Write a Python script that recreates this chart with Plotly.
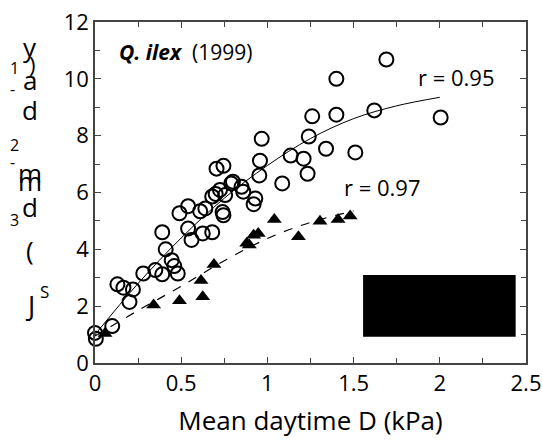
import plotly.graph_objects as go

# Open circles (Q. ilex, upper series)
circ_x = [0.0, 0.005, 0.10, 0.13, 0.165, 0.22, 0.20, 0.28, 0.35, 0.39, 0.48, 0.445, 0.46, 0.41,
          0.39, 0.54, 0.56, 0.625, 0.68, 0.49, 0.54, 0.61, 0.64, 0.68, 0.70, 0.725, 0.755, 0.74,
          0.745, 0.79, 0.80, 0.85, 0.86, 0.93, 0.92, 1.086, 1.40, 1.40, 1.26, 1.24, 0.967, 1.34,
          0.957, 1.135, 1.21, 1.233, 0.953, 0.705, 0.745, 1.69, 1.62, 2.005, 1.51]
circ_y = [1.06, 0.85, 1.30, 2.77, 2.65, 2.59, 2.15, 3.15, 3.27, 3.12, 3.15, 3.62, 3.41, 4.0,
          4.6, 4.73, 4.33, 4.56, 4.6, 5.27, 5.52, 5.34, 5.44, 5.86, 5.95, 6.09, 5.91, 5.31,
          5.2, 6.32, 6.38, 6.2, 6.03, 5.79, 5.59, 6.32, 10.0, 8.74, 8.68, 7.97, 7.89, 7.54,
          7.12, 7.3, 7.19, 6.66, 6.6, 6.84, 6.94, 10.68, 8.89, 8.64, 7.41]

# Filled triangles (lower series)
tri_x = [0.058, 0.34, 0.49, 0.625, 0.615, 0.69, 0.88, 0.895, 0.92, 0.947, 1.04, 1.18, 1.305, 1.41, 1.48]
tri_y = [1.04, 2.04, 2.19, 2.33, 2.90, 3.47, 4.21, 4.15, 4.50, 4.56, 5.05, 4.44, 4.99, 5.05, 5.17]

# Fitted curves
fit1_x = [0, 0.25, 0.5, 0.75, 1.0, 1.25, 1.5, 1.75, 2.0]
fit1_y = [1.0, 2.8, 4.4, 5.8, 6.95, 7.9, 8.6, 9.05, 9.35]
fit2_x = [0, 0.25, 0.5, 0.75, 1.0, 1.25, 1.5]
fit2_y = [0.95, 1.85, 2.7, 3.6, 4.38, 4.95, 5.35]

x_ticks = [0, 0.5, 1, 1.5, 2, 2.5]
x_ticktext = ["0", "0.5", "1", "1.5", "2", "2.5"]
y_ticks = [0, 2, 4, 6, 8, 10, 12]

W, H = 542, 443
L, R, T, B = 95, 16, 22, 80
PW, PH = W - L - R, H - T - B

fig = go.Figure()
fig.add_trace(go.Scatter(x=fit1_x, y=fit1_y, mode="lines", line=dict(color="black", width=1, shape="spline"),
                         hoverinfo="skip", showlegend=False))
fig.add_trace(go.Scatter(x=fit2_x, y=fit2_y, mode="lines", line=dict(color="black", width=1.2, dash="dash", shape="spline"),
                         hoverinfo="skip", showlegend=False))
fig.add_trace(go.Scatter(x=circ_x, y=circ_y, mode="markers", cliponaxis=False,
                         marker=dict(symbol="circle-open", size=14, color="black", line=dict(width=2, color="black")),
                         showlegend=False))
fig.add_trace(go.Scatter(x=tri_x, y=tri_y, mode="markers", cliponaxis=False,
                         marker=dict(symbol="triangle-up", size=13, color="black"),
                         showlegend=False))

fig.add_shape(type="rect", x0=1.555, x1=2.44, y0=0.92, y1=3.1, fillcolor="black", line=dict(width=0))

font = "Open Sans, Noto Sans, sans-serif"
fig.add_annotation(x=0.128, y=10.94, xref="x", yref="y", xanchor="left", yanchor="middle", showarrow=False,
                   text="<b><i>Q. ilex</i></b>  (1999)", font=dict(family=font, size=21, color="black"))
fig.add_annotation(x=1.862, y=10.06, xref="x", yref="y", xanchor="left", yanchor="middle", showarrow=False,
                   text="r = 0.95", font=dict(family=font, size=22, color="black"))
fig.add_annotation(x=1.433, y=6.19, xref="x", yref="y", xanchor="left", yanchor="middle", showarrow=False,
                   text="r = 0.97", font=dict(family=font, size=22, color="black"))

# Garbled vertical y-axis title characters (pixel centres)
ylab = [("y", 30, 47, 26), (")", 32, 64, 22), ("a", 30, 80, 26), ("d", 30, 110, 26),
        ("m", 30, 173, 26), ("m", 30, 181, 26), ("d", 30, 207, 26), ("(", 30, 250, 26),
        ("J", 30, 305, 27), ("S", 44, 291, 17), ("3", 14, 220, 16), ("-", 12, 162, 16),
        ("2", 14, 145, 16), ("-", 12, 89, 16), ("1", 14, 68, 16)]
for ch, px, py, fs in ylab:
    fig.add_annotation(x=(px - L) / PW, y=(H - B - py) / PH, xref="paper", yref="paper",
                       xanchor="center", yanchor="middle", showarrow=False, text=ch,
                       font=dict(family=font, size=fs, color="black"))

axis_common = dict(showline=True, linecolor="#444", linewidth=1.5, mirror="ticks", ticks="inside",
                   ticklen=6, tickwidth=1, tickcolor="#444", showgrid=False, zeroline=False,
                   tickfont=dict(family=font, size=22, color="black"))
fig.update_xaxes(range=[0, 2.5], tickvals=x_ticks, ticktext=x_ticktext,
                 minor=dict(ticks="inside", dtick=0.25, ticklen=5, tickcolor="#444", showgrid=False),
                 title=dict(text="Mean daytime D (kPa)", font=dict(family=font, size=26, color="black"), standoff=16),
                 **axis_common)
fig.update_yaxes(range=[0, 12], tickvals=y_ticks,
                 minor=dict(ticks="inside", dtick=1, ticklen=5, tickcolor="#444", showgrid=False),
                 **axis_common)

fig.update_layout(width=W, height=H, margin=dict(l=L, r=R, t=T, b=B, autoexpand=False),
                  plot_bgcolor="white", paper_bgcolor="white")
fig.write_html("out.html")
